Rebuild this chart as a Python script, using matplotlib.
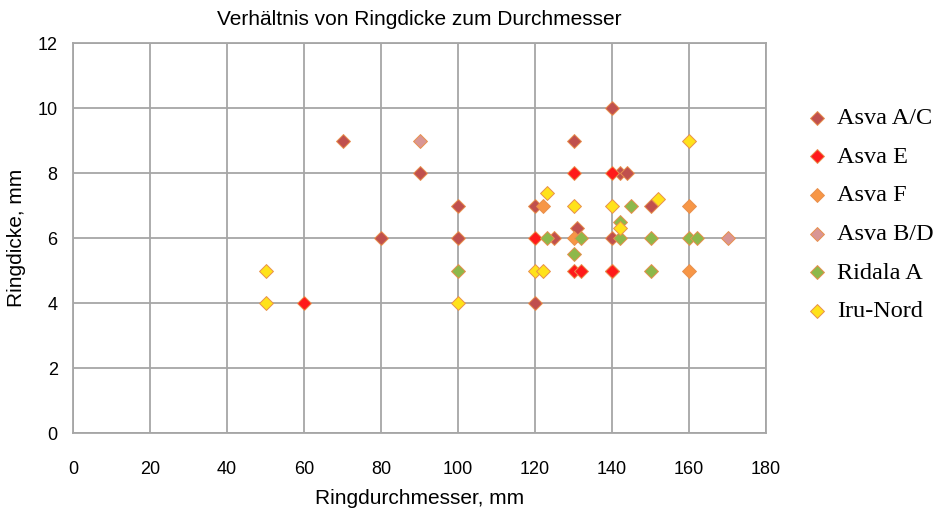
import matplotlib.pyplot as plt

# Ringdurchmesser (mm) / Ringdicke (mm) je Fundort
asva_ac_x = [70, 90, 80, 100, 100, 120, 130, 142, 144, 140, 131, 125, 140, 120, 150]
asva_ac_y = [9, 8, 6, 7, 6, 7, 9, 8, 8, 10, 6.3, 6, 6, 4, 7]
asva_e_x = [60, 120, 130, 140, 130, 132, 140, 140]
asva_e_y = [4, 6, 8, 8, 5, 5, 5, 5]
asva_f_x = [122, 130, 160, 160]
asva_f_y = [7, 6, 7, 5]
asva_bd_x = [90, 170]
asva_bd_y = [9, 6]
ridala_x = [100, 123, 132, 130, 145, 142, 142, 150, 150, 160, 162]
ridala_y = [5, 6, 6, 5.5, 7, 6.5, 6, 6, 5, 6, 6]
iru_x = [50, 50, 100, 123, 130, 140, 120, 122, 142, 152, 160]
iru_y = [5, 4, 4, 7.4, 7, 7, 5, 5, 6.3, 7.2, 9]

series = [
    ("Asva A/C", asva_ac_x, asva_ac_y, "#C0504D"),
    ("Asva E", asva_e_x, asva_e_y, "#FF1A1A"),
    ("Asva F", asva_f_x, asva_f_y, "#F79646"),
    ("Asva B/D", asva_bd_x, asva_bd_y, "#D99694"),
    ("Ridala A", ridala_x, ridala_y, "#8DB84A"),
    ("Iru-Nord", iru_x, iru_y, "#FFE21A"),
]

plt.rcParams['font.family'] = ['Liberation Sans', 'DejaVu Sans']

fig = plt.figure(figsize=(9.44, 5.11), dpi=100)
ax = fig.add_axes([73 / 944, 78 / 511, 693 / 944, 390 / 511])

for name, xs, ys, col in series:
    ax.scatter(xs, ys, marker='D', s=50, c=col, edgecolors='#E8904E',
               linewidths=0.7, label=name, zorder=3)

ax.set_xlim(0, 180)
ax.set_ylim(0, 12)
ax.set_xticks(range(0, 181, 20))
ax.set_yticks(range(0, 13, 2))
ax.grid(True, color='#A6A6A6', linewidth=1.3)
ax.set_axisbelow(True)
for sp in ax.spines.values():
    sp.set_color('#A6A6A6')
    sp.set_linewidth(1.3)
ax.tick_params(length=0, labelsize=13, pad=11)
ax.tick_params(axis='x', pad=20)

ax.set_title("Verhältnis von Ringdicke zum Durchmesser", fontsize=15, pad=13)
ax.set_xlabel("Ringdurchmesser, mm", fontsize=15, labelpad=8)
ax.set_ylabel("Ringdicke, mm", fontsize=15, labelpad=8)

leg = ax.legend(loc='upper left', bbox_to_anchor=(1.04, 0.86), frameon=False,
                prop={'family': 'Liberation Serif', 'size': 17.5},
                labelspacing=0.68, handletextpad=0.3, borderaxespad=0,
                handlelength=1.1)

fig.savefig("out.png", dpi=100)
